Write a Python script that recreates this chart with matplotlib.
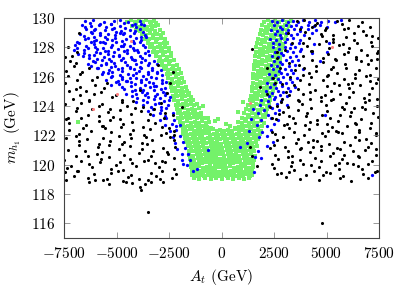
import matplotlib
matplotlib.use("Agg")
import matplotlib.pyplot as plt
import numpy as np

# ---------------- data ----------------
x_ticks = [-7500, -5000, -2500, 0, 2500, 5000, 7500]
y_ticks = [116, 118, 120, 122, 124, 126, 128, 130]

# green: V-shaped band
green_pts = [
    # left arm
    (-4480,129.75),(-4300,129.85),(-4120,129.7),(-3940,129.8),(-3760,129.72),(-3580,129.86),(-3400,129.7),(-3220,129.8),(-3120,129.65),
    (-4280,129.45),(-4090,129.55),(-3900,129.4),(-3720,129.52),(-3540,129.42),(-3350,129.55),(-3170,129.45),(-3020,129.5),
    (-4070,129.2),(-3880,129.1),(-3700,129.25),(-3510,129.15),(-3330,129.22),(-3150,129.1),(-2950,129.2),
    (-3790,128.9),(-3600,128.85),(-3420,128.95),(-3240,128.82),(-3060,128.92),(-2880,128.85),(-2770,128.95),
    (-3640,128.6),(-3450,128.55),(-3270,128.65),(-3090,128.55),(-2900,128.62),(-2700,128.55),
    (-3480,128.3),(-3300,128.25),(-3120,128.35),(-2940,128.25),(-2760,128.32),(-2580,128.28),
    (-3390,128.0),(-3210,127.95),(-3030,128.05),(-2850,127.95),(-2670,128.02),(-2500,127.98),
    (-3240,127.7),(-3060,127.65),(-2880,127.75),(-2700,127.66),(-2520,127.72),(-2420,127.62),
    (-3130,127.4),(-2950,127.35),(-2770,127.45),(-2590,127.36),(-2410,127.42),
    (-2990,127.1),(-2810,127.05),(-2630,127.15),(-2450,127.06),(-2280,127.12),
    (-2840,126.8),(-2660,126.75),(-2480,126.85),(-2300,126.76),(-2130,126.82),
    (-2740,126.5),(-2560,126.45),(-2380,126.55),(-2200,126.46),(-2030,126.52),
    (-2610,126.2),(-2430,126.15),(-2250,126.25),(-2080,126.16),(-1920,126.22),
    (-2540,125.9),(-2360,125.85),(-2180,125.95),(-2010,125.86),(-1870,125.92),
    (-2470,125.6),(-2290,125.55),(-2110,125.65),(-1940,125.56),(-1770,125.62),
    (-2410,125.3),(-2230,125.25),(-2050,125.35),(-1870,125.26),(-1680,125.32),
    (-2370,125.0),(-2190,124.95),(-2010,125.05),(-1830,124.96),(-1650,125.02),(-1560,124.92),
    (-2300,124.7),(-2120,124.65),(-1940,124.75),(-1760,124.66),(-1580,124.72),(-1440,124.64),
    (-2250,124.4),(-2070,124.35),(-1890,124.45),(-1710,124.36),(-1530,124.42),(-1340,124.38),
    (-2190,124.1),(-2010,124.05),(-1830,124.15),(-1650,124.06),(-1470,124.12),(-1290,124.05),(-1190,124.15),
    (-2140,123.8),(-1960,123.75),(-1780,123.85),(-1600,123.76),(-1420,123.82),(-1240,123.75),(-1090,123.85),
    (-2090,123.5),(-1910,123.45),(-1730,123.55),(-1550,123.46),(-1370,123.52),(-1190,123.45),(-1000,123.55),
    (-2050,123.2),(-1870,123.15),(-1690,123.25),(-1510,123.16),(-1330,123.22),(-1150,123.15),(-970,123.25),(-820,123.18),
    (-1990,122.9),(-1810,122.85),(-1630,122.95),(-1450,122.86),(-1270,122.92),(-1090,122.85),(-910,122.95),(-730,122.86),(-610,122.92),
    # right arm
    (2020,129.75),(2200,129.85),(2380,129.7),(2560,129.82),(2740,129.72),(2920,129.85),(3100,129.7),(3300,129.8),
    (1920,129.5),(2100,129.42),(2280,129.55),(2460,129.45),(2640,129.52),(2820,129.42),(3000,129.55),(3220,129.46),
    (1870,129.2),(2050,129.12),(2230,129.25),(2410,129.15),(2590,129.22),(2770,129.12),(2950,129.25),(3130,129.16),
    (1810,128.9),(1990,128.82),(2170,128.95),(2350,128.85),(2530,128.92),(2710,128.82),(2890,128.95),(3060,128.86),
    (1760,128.6),(1940,128.52),(2120,128.65),(2300,128.55),(2480,128.62),(2660,128.52),(2840,128.65),(3000,128.56),
    (1710,128.3),(1890,128.22),(2070,128.35),(2250,128.25),(2430,128.32),(2610,128.22),(2790,128.35),(2940,128.26),
    (1660,128.0),(1840,127.92),(2020,128.05),(2200,127.95),(2380,128.02),(2560,127.92),(2740,128.05),(2880,127.96),
    (1630,127.7),(1810,127.62),(1990,127.75),(2170,127.65),(2350,127.72),(2530,127.62),(2710,127.75),(2830,127.66),
    (1610,127.4),(1790,127.32),(1970,127.45),(2150,127.35),(2330,127.42),(2510,127.32),(2690,127.45),(2790,127.36),
    (1580,127.1),(1760,127.02),(1940,127.15),(2120,127.05),(2300,127.12),(2480,127.02),(2660,127.15),(2770,127.06),
    (1560,126.8),(1740,126.72),(1920,126.85),(2100,126.75),(2280,126.82),(2460,126.72),(2640,126.85),(2750,126.76),
    (1540,126.5),(1720,126.42),(1900,126.55),(2080,126.45),(2260,126.52),(2440,126.42),(2620,126.55),(2730,126.46),
    (1520,126.2),(1700,126.12),(1880,126.25),(2060,126.15),(2240,126.22),(2420,126.12),(2600,126.25),(2710,126.16),
    (1510,125.9),(1690,125.82),(1870,125.95),(2050,125.85),(2230,125.92),(2410,125.82),(2590,125.95),(2670,125.86),
    (1490,125.6),(1670,125.52),(1850,125.65),(2030,125.55),(2210,125.62),(2390,125.52),(2580,125.62),
    (1460,125.3),(1640,125.22),(1820,125.35),(2000,125.25),(2180,125.32),(2360,125.22),(2540,125.32),
    (1430,125.0),(1610,124.92),(1790,125.05),(1970,124.95),(2150,125.02),(2330,124.92),(2470,125.02),
    (1390,124.7),(1570,124.62),(1750,124.75),(1930,124.65),(2110,124.72),(2290,124.62),(2390,124.72),
    (1340,124.4),(1520,124.32),(1700,124.45),(1880,124.35),(2060,124.42),(2240,124.32),(2320,124.42),
    (1270,124.1),(1450,124.02),(1630,124.15),(1810,124.05),(1990,124.12),(2170,124.02),(2250,124.12),
    (1190,123.8),(1370,123.72),(1550,123.85),(1730,123.75),(1910,123.82),(2090,123.72),(2190,123.82),
    (1090,123.5),(1270,123.42),(1450,123.55),(1630,123.45),(1810,123.52),(1990,123.42),(2140,123.52),
    (960,123.2),(1140,123.12),(1320,123.25),(1500,123.15),(1680,123.22),(1860,123.12),(2060,123.22),
    (790,122.9),(970,122.82),(1150,122.95),(1330,122.85),(1510,122.92),(1690,122.82),(1870,122.95),(2010,122.86),
    # bottom of the V
    (-1940,122.62),(-1760,122.55),(-1580,122.66),(-1400,122.58),(-1220,122.64),(-1040,122.55),(-860,122.63),(-680,122.57),(-500,122.5),
    (650,122.52),(830,122.6),(1010,122.55),(1190,122.65),(1370,122.56),(1550,122.62),(1730,122.55),(1910,122.64),
    (-1850,122.35),(-1670,122.28),(-1490,122.4),(-1310,122.3),(-1130,122.38),(-950,122.27),(-770,122.36),(-590,122.3),(-410,122.4),(-230,122.32),
    (-50,122.38),(130,122.28),(310,122.35),(490,122.3),(670,122.4),(850,122.28),(1030,122.37),(1210,122.3),(1390,122.4),(1570,122.28),(1750,122.36),(1880,122.3),
    (-1830,122.08),(-1650,122.02),(-1460,122.12),(-1280,122.04),(-1100,122.1),(-910,122.0),(-730,122.13),(-550,122.05),(-370,122.1),(-180,122.02),
    (0,122.12),(190,122.05),(370,122.1),(550,122.0),(740,122.12),(920,122.04),(1100,122.1),(1280,122.02),(1470,122.12),(1650,122.05),(1840,122.08),
    (-1740,121.8),(-1560,121.74),(-1370,121.85),(-1190,121.76),(-1010,121.83),(-820,121.72),(-640,121.84),(-460,121.77),(-280,121.82),(-90,121.73),
    (90,121.85),(280,121.76),(460,121.82),(640,121.72),(830,121.84),(1010,121.76),(1190,121.83),(1380,121.74),(1560,121.85),(1750,121.78),
    (-1670,121.52),(-1480,121.46),(-1300,121.56),(-1120,121.48),(-930,121.55),(-750,121.45),(-560,121.57),(-380,121.49),(-200,121.54),(-10,121.44),
    (170,121.56),(360,121.48),(540,121.55),(730,121.46),(910,121.57),(1090,121.48),(1280,121.54),(1460,121.46),(1650,121.53),
    (-1610,121.24),(-1430,121.18),(-1250,121.28),(-1060,121.2),(-880,121.27),(-700,121.17),(-510,121.29),(-330,121.21),(-150,121.26),
    (40,121.16),(220,121.28),(400,121.2),(590,121.27),(770,121.18),(950,121.29),(1140,121.2),(1320,121.26),(1500,121.18),(1670,121.25),
    (-1570,120.96),(-1380,120.9),(-1200,121.0),(-1020,120.92),(-830,120.99),(-650,120.89),(-470,121.01),(-280,120.93),(-100,120.98),
    (90,120.88),(270,121.0),(450,120.92),(640,120.99),(820,120.9),(1000,121.01),(1190,120.92),(1370,120.98),(1550,120.9),
    (-1530,120.68),(-1350,120.62),(-1160,120.72),(-980,120.64),(-800,120.71),(-610,120.61),(-430,120.73),(-250,120.65),(-60,120.7),
    (120,120.6),(300,120.72),(490,120.64),(670,120.71),(850,120.62),(1040,120.73),(1220,120.64),(1400,120.7),(1590,120.62),
    (-1490,120.4),(-1310,120.34),(-1120,120.44),(-940,120.36),(-760,120.43),(-570,120.33),(-390,120.45),(-210,120.37),(-20,120.42),
    (160,120.32),(340,120.44),(530,120.36),(710,120.43),(890,120.34),(1080,120.45),(1260,120.36),(1440,120.42),(1570,120.34),
    (-1460,120.12),(-1270,120.06),(-1090,120.16),(-910,120.08),(-720,120.15),(-540,120.05),(-360,120.17),(-170,120.09),(10,120.14),
    (190,120.04),(380,120.16),(560,120.08),(740,120.15),(930,120.06),(1110,120.17),(1290,120.08),(1480,120.14),
    (-1430,119.84),(-1250,119.78),(-1060,119.88),(-880,119.8),(-700,119.87),(-510,119.77),(-330,119.89),(-150,119.81),(40,119.86),
    (220,119.76),(400,119.88),(590,119.8),(770,119.87),(950,119.78),(1140,119.89),(1320,119.8),(1490,119.86),
    (-1410,119.56),(-1220,119.5),(-1040,119.6),(-860,119.52),(-670,119.59),(-490,119.49),(-310,119.61),(-120,119.53),(60,119.58),
    (240,119.48),(430,119.6),(610,119.52),(790,119.59),(980,119.5),(1160,119.61),(1340,119.52),(1470,119.58),
    (-1390,119.28),(-1200,119.22),(-1020,119.32),(-840,119.24),(-650,119.31),(-470,119.21),(-290,119.33),(-100,119.25),(80,119.3),
    (260,119.2),(450,119.32),(630,119.24),(810,119.31),(1000,119.22),(1180,119.33),(1360,119.24),(1440,119.3),
    (-1300,119.08),(-1050,119.05),(-800,119.1),(-520,119.04),(-250,119.08),(30,119.05),(300,119.1),(560,119.04),(820,119.08),(1080,119.05),(1330,119.1),
    # sparse points inside the V and elsewhere
    (-170,123.1),(400,122.65),(-640,123.2),(-300,122.95),(200,122.8),(800,123.6),(-900,124.0),(1000,124.3),(-6830,122.9),
]

# blue
blue_pts = [
    # left cloud
    (-6500,129.81),(-6240,129.69),(-6100,129.87),(-5790,129.62),(-5600,129.76),(-5250,129.59),(-5130,129.78),(-4850,129.84),(-4630,129.66),(-4460,129.73),(-4130,129.57),(-3890,129.8),
    (-6620,129.54),(-6500,129.36),(-6220,129.43),(-6000,129.27),(-5830,129.5),(-5500,129.38),(-5260,129.56),(-5110,129.33),(-4820,129.47),(-4610,129.3),(-4250,129.53),(-4070,129.41),(-3820,129.59),(-3690,129.51),
    (-6450,129.27),(-6210,129.02),(-6060,129.16),(-5770,128.99),(-5560,129.18),(-5200,129.24),(-5020,129.06),(-4770,129.13),(-4640,128.97),(-4340,129.2),(-4140,129.08),(-3880,129.26),(-3740,129.03),
    (-6720,128.9),(-6530,128.78),(-6180,128.96),(-6060,128.73),(-5780,128.87),(-5560,128.7),(-5390,128.93),(-5060,128.81),(-4820,128.99),(-4670,128.91),(-4380,128.79),(-4170,128.97),(-3810,128.72),(-3630,128.86),
    (-6880,128.39),(-6520,128.58),(-6340,128.64),(-6090,128.46),(-5960,128.53),(-5660,128.37),(-5460,128.6),(-5200,128.48),(-5060,128.66),(-4750,128.43),(-4560,128.57),(-4210,128.4),(-4090,128.63),(-3810,128.51),(-3590,128.69),
    (-6960,128.13),(-6790,128.27),(-6460,128.1),(-6220,128.33),(-6070,128.21),(-5780,128.39),(-5570,128.31),(-5210,128.19),(-5030,128.37),(-4780,128.12),(-4650,128.26),(-4350,128.09),(-4150,128.28),(-3890,128.34),(-3750,128.16),
    (-7020,127.82),(-6880,127.96),(-6570,127.79),(-6380,127.98),(-6030,128.04),(-5910,127.86),(-5630,127.93),(-5410,127.77),(-5240,128.0),(-4910,127.88),(-4670,128.06),(-4520,127.83),(-4230,127.97),(-4020,127.8),(-3660,128.03),
    (-6820,127.56),(-6530,127.63),(-6320,127.47),(-5960,127.7),(-5780,127.58),(-5530,127.76),(-5400,127.53),(-5100,127.67),(-4900,127.5),(-4640,127.73),(-4500,127.61),(-4190,127.79),(-4000,127.71),(-3650,127.59),(-3480,127.77),
    (-6580,127.41),(-6300,127.29),(-6080,127.47),(-5910,127.22),(-5580,127.36),(-5340,127.19),(-5190,127.38),(-4900,127.44),(-4690,127.26),(-4330,127.33),(-4150,127.17),(-3900,127.4),(-3770,127.28),(-3450,127.46),
    (-6380,126.87),(-6130,127.1),(-6000,126.98),(-5700,127.16),(-5500,126.93),(-5240,127.07),(-5100,126.9),(-4790,127.13),(-4600,127.01),(-4250,127.19),(-4130,127.11),(-3850,126.99),(-3630,127.17),(-3460,126.92),(-3200,127.06),
    (-6230,126.76),(-5880,126.59),(-5760,126.78),(-5480,126.84),(-5260,126.66),(-5090,126.73),(-4760,126.57),(-4520,126.8),(-4370,126.68),(-4080,126.86),(-3870,126.63),(-3510,126.77),(-3330,126.6),(-3080,126.83),
    (-5950,126.56),(-5620,126.33),(-5380,126.47),(-5230,126.3),(-4940,126.53),(-4730,126.41),(-4370,126.59),(-4190,126.51),(-3940,126.39),(-3810,126.57),(-3510,126.32),(-3310,126.46),(-3050,126.29),(-2900,126.48),
    (-5700,126.18),(-5390,126.24),(-5200,126.06),(-4850,126.13),(-4730,125.97),(-4450,126.2),(-4230,126.08),(-4060,126.26),(-3730,126.03),(-3490,126.17),(-3340,126.0),(-3050,126.23),(-2850,126.11),
    (-5480,125.79),(-5270,125.97),(-4910,125.72),(-4730,125.86),(-4480,125.69),(-4350,125.88),(-4050,125.94),(-3850,125.76),(-3590,125.83),(-3450,125.67),(-3140,125.9),(-2850,125.78),
    (-5250,125.4),(-5030,125.63),(-4860,125.51),(-4530,125.69),(-4290,125.61),(-4140,125.49),(-3850,125.67),(-3640,125.42),(-3280,125.56),(-3100,125.39),(-2850,125.58),(-2650,125.64),
    (-4750,125.31),(-4620,125.19),(-4320,125.37),(-4120,125.12),(-3860,125.26),(-3720,125.09),(-3410,125.28),(-3220,125.34),(-2870,125.16),(-2700,125.23),
    (-4550,124.85),(-4280,125.04),(-4090,124.8),(-3780,124.98),(-3560,124.88),(-3230,125.06),(-3060,124.83),(-2790,124.95),(-2620,124.87),
    (-4250,124.7),(-4010,124.55),(-3660,124.74),(-3480,124.6),(-3190,124.67),(-2910,124.52),(-2680,124.76),(-2460,124.64),
    (-4050,124.25),(-3740,124.4),(-3540,124.28),(-3230,124.45),(-2990,124.22),(-2740,124.36),(-2520,124.43),
    (-3760,124.08),(-3370,123.95),(-3180,124.12),(-2860,123.9),(-2570,124.05),
    (-3520,123.66),(-3250,123.82),(-2880,123.7),(-2620,123.84),
    (-3280,123.38),(-2920,123.55),(-2700,123.35),(-2320,123.5),
    (-2950,123.02),(-2620,123.18),(-2260,123.06),
    (-2700,122.68),(-2350,122.75),(-2150,122.62),(-1980,122.7),
    (-2450,122.3),(-2150,122.35),(-2300,121.9),(-2000,121.95),(-2200,121.5),(-1850,121.55),
    (-2100,121.1),(-1750,121.15),(-1900,120.7),(-1600,120.75),(-1880,120.3),(-1500,120.35),
    (-1640,120.0),(-1830,120.05),(-1350,119.6),(-640,121.0),(-1170,119.7),
    # right side
    (2400,129.8),(2650,129.72),(2900,129.85),(3150,129.75),(3400,129.82),(3650,129.7),(3900,129.84),(4150,129.74),(4450,129.86),(4750,129.72),(5050,129.8),(5400,129.7),(5700,129.84),
    (2500,129.5),(2800,129.42),(3050,129.55),(3300,129.45),(3550,129.52),(3800,129.4),(4100,129.55),(4400,129.45),(4700,129.5),(5000,129.4),
    (2350,129.2),(2650,129.12),(2900,129.25),(3150,129.15),(3450,129.22),(3750,129.1),(4100,129.25),(4500,129.15),
    (2550,128.9),(2800,128.82),(3050,128.95),(3300,128.85),(3600,128.92),(3950,128.82),(4300,128.95),
    (2300,128.6),(2600,128.52),(2850,128.65),(3100,128.55),(3400,128.62),(3750,128.52),
    (2450,128.3),(2750,128.22),(3000,128.35),(3300,128.25),(3700,128.32),(4400,128.22),(5100,128.3),
    (2450,128.0),(2750,127.92),(3000,128.05),(3250,127.95),(3500,128.02),(3800,127.92),
    (2550,127.7),(2850,127.62),(3100,127.75),(3400,127.65),(3750,127.72),(4300,127.62),(5000,127.7),
    (2400,127.4),(2700,127.32),(2950,127.45),(3250,127.35),(3550,127.42),
    (2500,127.1),(2800,127.02),(3050,127.15),(3350,127.05),(3650,127.12),(4700,127.05),
    (2350,126.8),(2650,126.72),(2900,126.85),(3200,126.75),(3500,126.82),
    (2450,126.5),(2750,126.42),(3000,126.55),(3300,126.45),(3900,126.52),
    (2250,126.2),(2550,126.12),(2850,126.25),(3100,126.15),(3400,126.22),
    (2400,125.9),(2700,125.82),(2950,125.95),(3250,125.85),(3600,125.92),
    (2150,125.6),(2500,125.52),(2800,125.65),(3050,125.55),(3350,125.62),
    (2300,125.3),(2600,125.22),(2900,125.35),(3150,125.25),(3500,125.32),
    (2100,125.0),(2400,124.92),(2700,125.05),(2950,124.95),(3250,125.02),
    (2250,124.7),(2550,124.62),(2800,124.75),(3100,124.65),
    (1900,124.4),(2200,124.32),(2500,124.45),(2850,124.35),
    (1850,124.1),(2250,124.02),(2650,124.15),(3100,124.05),
    (1500,123.8),(2000,123.72),(2400,123.85),(2750,123.75),
    (1750,123.5),(2200,123.42),(2550,123.55),(4930,123.4),
    (1400,123.1),(1900,123.02),(2350,123.15),(2700,123.05),
    (1700,122.7),(2150,122.62),(2500,122.75),
    (1300,122.3),(1950,122.22),(2350,122.35),
    (1800,121.9),(2150,121.95),
    (1210,121.5),(2170,121.3),(2450,121.55),
    (880,121.2),(1740,120.9),
    (1600,120.5),(1900,120.45),
    (1550,119.5),(7170,119.3),
]

# black
black_pts = [
    # left region
    (-7420,118.95),(-6300,118.8),(-5650,118.95),(-5350,118.7),(-4550,118.85),(-4250,118.75),(-3880,118.45),(-3820,118.25),
    (-3650,118.7),(-3480,118.95),(-3350,118.8),(-2950,119.0),(-2800,118.85),(-4700,118.9),(-6000,118.95),(-3500,116.75),
    (-7460,119.48),(-7040,119.25),(-6880,119.6),(-6350,119.1),(-6080,119.37),(-5470,119.03),(-5280,119.42),(-4930,119.54),
    (-4450,119.18),(-4310,119.32),(-3920,118.99),(-3360,119.45),(-3130,119.22),(-2820,119.57),(-2370,119.12),(-2170,119.39),
    (-7350,119.78),(-7160,119.92),(-6810,119.59),(-6330,120.05),(-6190,119.82),(-5800,120.17),(-5240,119.72),(-5010,119.99),
    (-4700,119.66),(-4250,120.11),(-4050,119.88),(-3680,120.23),(-3160,120.08),(-2980,119.85),(-2690,120.2),(-2250,119.7),
    (-7480,120.3),(-6920,120.57),(-6690,120.23),(-6380,120.62),(-5930,120.74),(-5730,120.38),(-5360,120.52),(-4840,120.19),
    (-4660,120.65),(-4370,120.42),(-3930,120.77),(-3510,120.32),(-3350,120.59),(-2820,120.26),(-2550,120.71),(-2250,120.48),
    (-7300,121.02),(-6770,121.37),(-6500,120.92),(-5890,121.19),(-5700,120.86),(-5350,121.31),(-4870,121.08),(-4730,121.43),
    (-4340,121.28),(-3780,121.05),(-3550,121.4),(-3240,120.9),(-2790,121.17),(-2590,120.83),(-2220,121.22),
    (-7420,121.82),(-6940,121.94),(-6800,121.58),(-6410,121.72),(-5850,121.39),(-5620,121.85),(-5310,121.62),(-4860,121.97),
    (-4660,121.52),(-4290,121.79),(-3770,121.46),(-3590,121.91),(-3300,121.68),(-2860,122.03),(-2440,121.88),(-2280,121.65),
    (-7250,122.39),(-6800,122.06),(-6600,122.51),(-6230,122.28),(-5710,122.63),(-5530,122.48),(-5240,122.25),(-4800,122.6),
    (-4380,122.1),(-4220,122.37),(-3690,122.03),(-3420,122.42),(-2810,122.54),(-2620,122.18),(-2270,122.32),
    (-7400,123.08),(-7240,122.85),(-6710,123.2),(-6440,122.7),(-5830,122.97),(-5640,122.63),(-5290,123.02),(-4810,123.14),
    (-4670,122.78),(-4280,122.92),(-3720,122.59),(-3490,123.05),(-3180,122.82),(-2730,123.17),
    (-7330,123.19),(-6940,123.65),(-6380,123.42),(-6150,123.77),(-5840,123.32),(-5390,123.59),(-5190,123.26),(-4820,123.71),
    (-4300,123.48),(-4120,123.83),(-3830,123.68),(-3390,123.45),
    (-7470,124.17),(-6860,123.83),(-6670,124.22),(-6320,124.34),(-5840,123.98),(-5700,124.12),(-5310,123.79),(-4750,124.25),
    (-4520,124.02),(-4210,124.37),(-3760,123.92),
    (-7280,125.0),(-7050,124.5),(-6740,124.77),(-6290,124.43),(-6090,124.82),(-5720,124.94),(-5200,124.58),(-5020,124.72),(-4730,124.39),
    (-7440,125.54),(-6920,125.18),(-6740,125.32),(-6450,124.99),(-6010,125.45),(-5590,125.22),(-5430,125.57),
    (-7300,126.05),(-6880,125.8),(-6720,126.2),(-6190,125.75),(-5920,126.0),
    (-7390,126.4),(-7010,126.75),(-6650,126.35),(-6310,126.6),
    (-7200,127.05),(-6930,126.9),(-7100,127.4),(-6900,127.65),(-6790,129.0),(-7300,128.0),(-7460,127.35),
    # black mixed in with the left arm
    (-3020,126.8),(-2310,126.3),(-2450,125.6),(-3880,125.1),(-2600,124.9),(-2900,124.2),(-3200,123.8),(-2700,123.5),
    (-2500,122.5),(-2250,122.0),(-2310,123.4),(-1880,123.9),
    # black mixed in with the right arm
    (2170,124.8),(2310,123.9),(2400,123.2),(1360,121.2),(1450,120.6),(1690,119.9),(1450,127.9),
    (2170,126.6),(1830,125.3),(2550,125.6),(2640,127.7),
    (2450,125.9),(2800,126.6),(2650,127.3),(3000,127.8),(3200,126.9),(2900,125.5),(3350,128.3),(3150,129.0),
    # right region
    (2650,119.38),(3070,119.15),(3230,119.5),(3760,119.0),(4030,119.27),(4640,118.93),(4830,119.32),(5180,119.44),
    (5660,119.08),(5800,119.22),(6190,118.89),(6750,119.35),(6980,119.12),(7290,119.47),(4786,116.0),
    (2500,119.77),(2850,119.44),(3330,119.9),(3470,119.67),(3860,120.02),(4420,119.57),(4650,119.84),(4960,119.51),
    (5410,119.96),(5610,119.73),(5980,120.08),(6500,119.93),(6680,119.7),(6970,120.05),(7410,119.55),
    (2400,120.03),(2710,120.42),(3160,120.54),(3360,120.18),(3730,120.32),(4250,119.99),(4430,120.45),(4720,120.22),
    (5160,120.57),(5580,120.12),(5740,120.39),(6270,120.06),(6540,120.51),(7150,120.28),(7340,120.63),
    (2300,121.12),(2570,120.67),(3180,120.94),(3370,120.61),(3720,121.06),(4200,120.83),(4340,121.18),(4730,121.03),
    (5290,120.8),(5520,121.15),(5830,120.65),(6280,120.92),(6480,120.58),(6850,120.97),(7370,121.09),
    (2480,121.35),(2620,121.7),(3010,121.2),(3570,121.47),(3800,121.13),(4110,121.52),(4560,121.64),(4760,121.28),
    (5130,121.42),(5650,121.09),(5830,121.55),(6120,121.32),(6560,121.67),(6980,121.22),(7140,121.49),
    (2550,122.1),(2920,121.87),(3440,122.22),(3620,121.77),(3910,122.04),(4350,121.71),(4770,122.16),(4930,121.93),
    (5460,122.28),(5730,122.13),(6340,121.9),(6530,122.25),(6880,121.75),(7360,122.02),
    (2420,122.26),(2980,122.71),(3210,122.48),(3520,122.83),(3970,122.68),(4170,122.45),(4540,122.8),(5060,122.3),
    (5240,122.57),(5530,122.23),(5970,122.62),(6390,122.74),(6550,122.38),(7080,122.52),(7350,122.19),
    (2600,123.12),(3130,122.78),(3400,123.17),(4010,123.29),(4200,122.93),(4550,123.07),(5030,122.74),(5170,123.2),
    (5560,122.97),(6120,123.32),(6350,122.87),(6660,123.14),(7110,122.81),(7440,123.26),
    (2750,123.48),(2930,123.62),(3220,123.29),(3660,123.75),(4080,123.52),(4240,123.87),(4770,123.42),(5040,123.69),
    (5650,123.36),(5840,123.81),(6190,123.58),(6670,123.93),(6810,123.78),(7200,123.55),
    (2650,123.97),(2840,124.24),(3190,123.91),(3670,124.36),(3810,124.13),(4200,124.48),(4760,124.33),(4990,124.1),
    (5300,124.45),(5750,123.95),(5950,124.22),(6320,123.88),(6840,124.27),(7020,124.39),(7400,124.03),
    (2900,124.5),(3210,124.77),(3660,124.43),(3860,124.82),(4230,124.94),(4750,124.58),(4930,124.72),(5220,124.39),
    (5660,124.85),(6080,124.62),(6240,124.97),(6770,124.52),(7040,124.79),(7420,124.46),
    (3050,124.94),(3470,125.4),(3630,125.17),(4160,125.52),(4430,125.07),(5040,125.34),(5230,125.01),(5580,125.46),
    (6060,125.23),(6200,125.58),(6590,125.43),(7150,125.2),(7380,125.55),
    (3250,126.01),(3730,125.78),(3870,126.13),(4260,125.98),(4820,125.75),(5050,126.1),(5360,125.6),(5810,125.87),
    (6010,125.53),(6380,125.92),(6900,126.04),(7080,125.68),(7450,125.82),
    (3500,126.47),(3950,126.59),(4150,126.23),(4520,126.37),(5040,126.04),(5220,126.5),(5510,126.27),(5950,126.62),
    (6370,126.17),(6530,126.44),(7060,126.11),(7350,126.56),
    (3700,126.82),(4310,127.17),(4500,126.72),(4850,126.99),(5330,126.66),(5470,127.11),(5860,126.88),(6420,127.23),
    (6650,127.08),(6960,126.85),(7410,127.2),
    (3900,127.4),(4290,127.75),(4850,127.25),(5080,127.52),(5390,127.18),(5840,127.57),(6040,127.69),(6410,127.33),
    (6930,127.47),(7110,127.14),(7420,127.6),
    (4050,128.09),(4250,127.76),(4620,128.21),(5140,127.98),(5320,128.33),(5610,128.18),(6050,127.95),(6470,128.3),
    (6630,127.8),(7160,128.07),(7430,127.73),
    (3900,128.28),(4170,128.67),(4780,128.79),(4970,128.43),(5320,128.57),(5800,128.24),(5940,128.7),(6330,128.47),
    (6890,128.82),(7120,128.37),(7430,128.64),
    (3750,129.28),(3980,129.05),(4290,129.4),(4740,128.9),(4940,129.17),(5310,128.83),(5830,129.22),(6010,129.34),
    (6300,128.98),(6740,129.12),(7160,128.79),
    (3600,129.77),(3950,129.89),(4430,129.53),(4570,129.67),(4960,129.34),(5520,129.8),(5750,129.57),(6060,129.89),
    (6510,129.47),(6710,129.74),(7080,129.41),
]

# red
red_pts = [(-4310,128.4),(-4976,124.8),(-6120,123.8),(5262,128.0),(1357,124.2)]

# ---------------- style ----------------
plt.rcParams.update({
    "font.family": "serif",
    "font.serif": ["cmr10"],
    "mathtext.fontset": "cm",
    "font.size": 11,
    "axes.unicode_minus": False,
})

fig = plt.figure(figsize=(4.07, 2.88), dpi=100)
ax = fig.add_axes([64/407, 1-238/288, (379-64)/407, (238-18)/288])

g = np.array(green_pts)
b = np.array(blue_pts)
k = np.array(black_pts)
r = np.array(red_pts)

ax.scatter(g[:, 0], g[:, 1], s=10, marker='s', color='#74f26a', linewidths=0)
ax.scatter(b[:, 0], b[:, 1], s=5.5, marker='o', color='#0000ff', linewidths=0)
ax.scatter(k[:, 0], k[:, 1], s=5, marker='o', color='black', linewidths=0)
ax.scatter(r[:, 0], r[:, 1], s=5, marker='o', color='#ff7f7f', linewidths=0)

ax.set_xlim(-7500, 7500)
ax.set_ylim(115, 130)
ax.set_xticks(x_ticks)
ax.set_xticklabels([r'$%d$' % v if v >= 0 else r'$-%d$' % (-v) for v in x_ticks])
ax.set_yticks(y_ticks)
ax.set_yticklabels([r'$%d$' % v for v in y_ticks])

ax.tick_params(direction='in', length=4, width=0.6, color='#888888',
               top=True, right=True, labelsize=11, pad=6)
for sp in ax.spines.values():
    sp.set_color('#444444')
    sp.set_linewidth(0.8)

ax.set_xlabel(r'$A_t$ (GeV)', fontsize=11, labelpad=4)
ax.set_ylabel(r'$m_{h_1}$ (GeV)', fontsize=11, labelpad=6)

plt.savefig("out.png", dpi=100)
